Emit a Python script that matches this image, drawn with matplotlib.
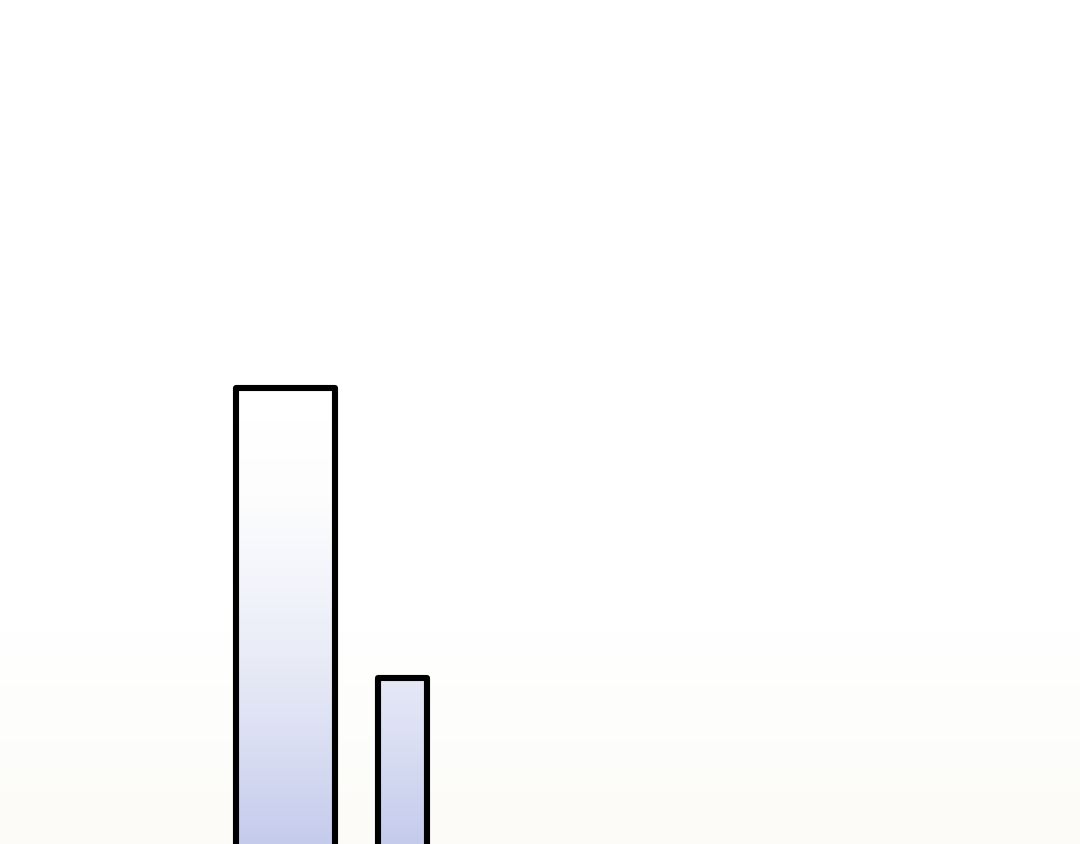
import numpy as np
import matplotlib
matplotlib.use("Agg")
import matplotlib.pyplot as plt
from matplotlib.colors import LinearSegmentedColormap

# Data
categories = ["A", "B"]
values = [55.0, 21.3]
bar_widths = [0.846, 0.419]

Y0, Y1 = 2, 100
X0, X1 = -2.44, 6.79

fig = plt.figure(figsize=(10.8, 8.44), dpi=100)
ax = fig.add_axes([0, 0, 1, 1])
ax.set_xlim(X0, X1)
ax.set_ylim(Y0, Y1)
ax.axis("off")

# subtle warm background toward bottom
bg = LinearSegmentedColormap.from_list(
    "bg", [(0, "#fcfbf8"), (0.12, "#fdfdfb"), (0.25, "#ffffff"), (1, "#ffffff")])
grad = np.linspace(0, 1, 512).reshape(-1, 1)
ax.imshow(grad, aspect="auto", cmap=bg, extent=[X0, X1, Y0, Y1],
          origin="lower", zorder=0)

x = np.arange(len(categories))
bars = ax.bar(x, values, width=bar_widths, color="none",
              edgecolor="black", linewidth=4.4, zorder=3)

fill_cmap = LinearSegmentedColormap.from_list(
    "fill", [(0.0, "#c5cbeb"), (0.064, "#d0d6f0"), (0.135, "#dde1f4"),
             (0.197, "#e6e8f5"), (0.265, "#eef0f9"), (0.336, "#f6f7fc"),
             (0.41, "#fdfdfe"), (0.5, "#ffffff"), (1.0, "#ffffff")])
for b in bars:
    b.set_joinstyle("round")
    im = ax.imshow(grad, aspect="auto", cmap=fill_cmap,
                   extent=[X0, X1, Y0, Y1], origin="lower", zorder=2)
    im.set_clip_path(b)

fig.savefig("out.png", dpi=100)
